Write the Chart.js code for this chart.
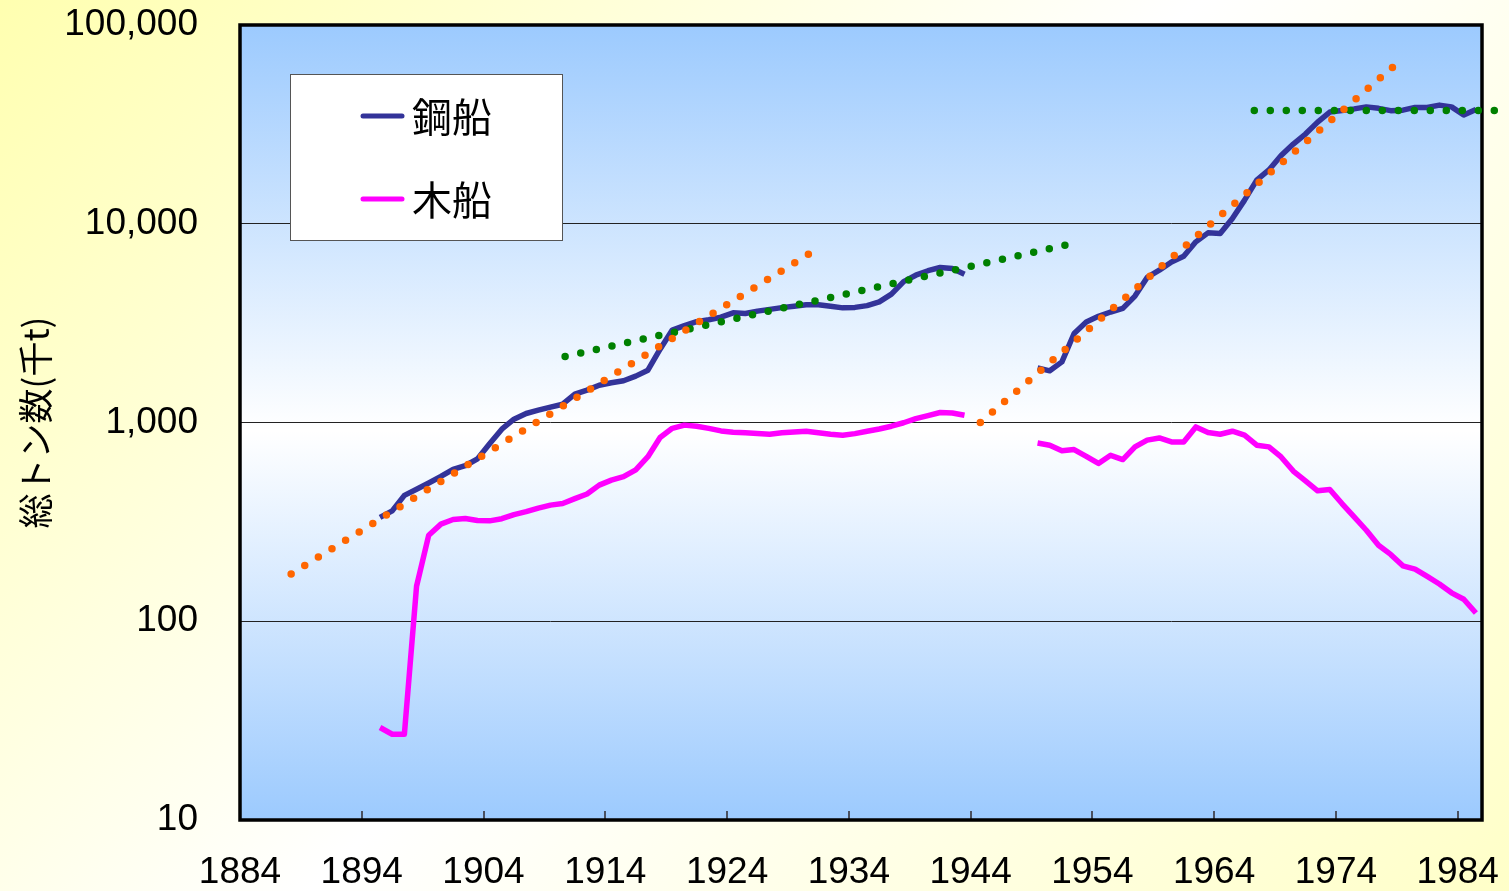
<!DOCTYPE html>
<html lang="ja">
<head>
<meta charset="utf-8">
<title>鋼船・木船 総トン数</title>
<script src="https://cdn.jsdelivr.net/npm/chart.js@4.4.1/dist/chart.umd.min.js"></script>
<style>
  html, body { margin: 0; padding: 0; }
  body {
    width: 1509px;
    height: 891px;
    overflow: hidden;
    background: linear-gradient(135deg, #ffffb0 0%, #ffffff 50%, #ffffc8 100%);
  }
  #shipChart { display: block; }
</style>
</head>
<body>
<canvas id="shipChart" width="1509" height="891"></canvas>
<script>
/* ===========================
   DATA (千総トン, log scale)
============================ */

// 鋼船 1895-1943, 1949-1985
const steelPreStart = 1895;
const steelPre = [
    333, 359, 430, 461, 496, 535, 581, 606, 656, 782,
    925, 1039, 1110, 1153, 1194, 1236, 1388, 1455, 1540, 1585,
    1622, 1711, 1833, 2339, 2917, 3070, 3215, 3290, 3387, 3562,
    3538, 3633, 3708, 3784, 3849, 3911, 3911, 3849, 3774, 3795,
    3873, 4048, 4424, 5115, 5510, 5804, 6026, 5955, 5571
];
const steelPostStart = 1949;
const steelPost = [
    1884, 1820, 2018, 2805, 3206, 3420, 3597, 3750, 4325, 5370,
    5838, 6427, 6866, 8109, 8998, 8935, 10630, 13150, 16570, 18660,
    22030, 25170, 28260, 32450, 36460, 37150, 37830, 38730, 38080, 37080,
    37290, 38480, 38480, 39530, 38730, 35220, 37570
];

// 木船 1895-1943, 1949-1985
const woodPreStart = 1895;
const woodPre = [
    29.2, 27, 27, 150, 271, 308, 325, 329, 321, 320,
    328, 344, 356, 371, 384, 391, 414, 437, 484, 513,
    534, 578, 673, 841, 935, 970, 958, 934, 907, 894,
    887, 880, 873, 887, 896, 904, 889, 873, 863, 879,
    904, 927, 958, 997, 1045, 1084, 1123, 1117, 1088
];
const woodPostStart = 1949;
const woodPost = [
    789, 769, 720, 731, 676, 622, 684, 651, 754, 815,
    836, 798, 798, 950, 891, 873, 904, 863, 769, 754,
    671, 570, 508, 453, 460, 391, 335, 287, 241, 217,
    190, 183, 168, 154, 139, 129, 110
];

// trend lines (start / end)
const trendOrangeAYears = [1887.7, 1930.2];
const trendOrangeAValues = [173, 7030];
const trendOrangeBYears = [1944.3, 1978.2];
const trendOrangeBValues = [1000, 61600];
const trendGreenAYears = [1910.2, 1951.3];
const trendGreenAValues = [2150, 7800];
const trendGreenBYears = [1966.8, 1987.5];
const trendGreenBValues = [37150, 37150];

// axis ticks
const xTicks = [1884, 1894, 1904, 1914, 1924, 1934, 1944, 1954, 1964, 1974, 1984];
const yTicks = [10, 100, 1000, 10000, 100000];

/* ===========================
   HELPERS
============================ */

// Excel puts each year in the middle of its category
const CAT_MID = 0.5;

function toPoints(start, values) {
    return values.map((v, i) => ({ x: start + i + CAT_MID, y: v }));
}

function joinSegments(a, b) {
    // null point breaks the line between the two periods
    return a.concat([{ x: a[a.length - 1].x + 1, y: null }], b);
}

function trendPoints(years, values) {
    return years.map((yr, i) => ({ x: yr + CAT_MID, y: values[i] }));
}

function noEdgePadding(s) {
    s.paddingTop = 0;
    s.paddingBottom = 0;
    s.paddingLeft = 0;
    s.paddingRight = 0;
}

const tickFont = { family: '"Liberation Sans", Arial, sans-serif', size: 37 };
const jpFont = '"Noto Sans CJK JP", sans-serif';

/* ===========================
   PLUGIN: plot background, border, ticks, legend
============================ */
const plotDecor = {
    id: 'plotDecor',
    beforeDraw(chart) {
        const { ctx, chartArea: a } = chart;
        const g = ctx.createLinearGradient(0, a.top, 0, a.bottom);
        g.addColorStop(0, '#9ccafe');
        g.addColorStop(0.51, '#ffffff');
        g.addColorStop(1, '#9ccafe');
        ctx.save();
        ctx.fillStyle = g;
        ctx.fillRect(a.left, a.top, a.width, a.height);
        ctx.restore();
    },
    beforeDatasetsDraw(chart) {
        const { ctx, chartArea: a } = chart;
        const xs = chart.scales.x;
        ctx.save();
        // small inside tick marks on the category axis
        ctx.strokeStyle = '#4a5060';
        ctx.lineWidth = 2;
        xs.ticks.forEach(t => {
            const px = Math.round(xs.getPixelForValue(t.value));
            ctx.beginPath();
            ctx.moveTo(px, a.bottom);
            ctx.lineTo(px, a.bottom - 9);
            ctx.stroke();
        });
        // plot border
        ctx.strokeStyle = '#000';
        ctx.lineWidth = 3.5;
        ctx.strokeRect(a.left, a.top, a.width, a.height);
        ctx.restore();
    },
    afterDraw(chart) {
        const { ctx } = chart;
        const items = chart.data.datasets.filter(d => d.inLegend);
        const box = { x: 290, y: 74, w: 272, h: 166 };
        ctx.save();
        ctx.fillStyle = '#fff';
        ctx.fillRect(box.x, box.y, box.w, box.h);
        ctx.strokeStyle = '#555';
        ctx.lineWidth = 1;
        ctx.strokeRect(box.x + 0.5, box.y + 0.5, box.w, box.h);
        ctx.font = '40px ' + jpFont;
        ctx.textBaseline = 'middle';
        ctx.fillStyle = '#000';
        items.forEach((d, i) => {
            const cy = box.y + 42 + i * 83;
            ctx.strokeStyle = d.borderColor;
            ctx.lineWidth = 5;
            ctx.lineCap = 'round';
            ctx.beginPath();
            ctx.moveTo(box.x + 73, cy);
            ctx.lineTo(box.x + 112, cy);
            ctx.stroke();
            ctx.fillText(d.label, box.x + 122, cy + 1);
        });
        ctx.restore();
    }
};

/* ===========================
   CHART
============================ */
const trendStyle = {
    borderWidth: 7.5,
    borderDash: [0, 16],
    borderCapStyle: 'round',
    pointRadius: 0,
    fill: false,
    tension: 0
};

new Chart(document.getElementById('shipChart').getContext('2d'), {
    type: 'line',
    data: {
        datasets: [
            Object.assign({ label: 'orangeA', data: trendPoints(trendOrangeAYears, trendOrangeAValues), borderColor: '#ff6600' }, trendStyle),
            Object.assign({ label: 'orangeB', data: trendPoints(trendOrangeBYears, trendOrangeBValues), borderColor: '#ff6600' }, trendStyle),
            Object.assign({ label: 'greenA', data: trendPoints(trendGreenAYears, trendGreenAValues), borderColor: '#008000' }, trendStyle),
            Object.assign({ label: 'greenB', data: trendPoints(trendGreenBYears, trendGreenBValues), borderColor: '#008000', clip: false }, trendStyle),
            {
                label: '鋼船',
                inLegend: true,
                data: joinSegments(toPoints(steelPreStart, steelPre), toPoints(steelPostStart, steelPost)),
                borderColor: '#333399',
                borderWidth: 5.5,
                pointRadius: 0,
                spanGaps: false,
                borderJoinStyle: 'round',
                tension: 0
            },
            {
                label: '木船',
                inLegend: true,
                data: joinSegments(toPoints(woodPreStart, woodPre), toPoints(woodPostStart, woodPost)),
                borderColor: '#ff00ff',
                borderWidth: 5.5,
                pointRadius: 0,
                spanGaps: false,
                borderJoinStyle: 'round',
                tension: 0
            }
        ]
    },
    options: {
        responsive: false,
        animation: false,
        layout: { padding: { top: 25, right: 27, left: 0, bottom: 0 } },
        plugins: {
            legend: { display: false },
            tooltip: { enabled: false }
        },
        scales: {
            x: {
                type: 'linear',
                min: 1884,
                max: 1986,
                grid: { display: false, drawTicks: false },
                border: { display: false },
                afterBuildTicks: s => { s.ticks = xTicks.map(v => ({ value: v })); },
                afterFit: s => { s.height = 71; noEdgePadding(s); },
                ticks: {
                    font: tickFont,
                    color: '#000',
                    padding: 31,
                    maxRotation: 0,
                    autoSkip: false,
                    callback: v => String(v)
                }
            },
            y: {
                type: 'logarithmic',
                min: 10,
                max: 100000,
                grid: { color: '#222', lineWidth: 1, drawTicks: false },
                border: { display: false },
                afterBuildTicks: s => { s.ticks = yTicks.map(v => ({ value: v })); },
                afterFit: s => { s.width = 240; noEdgePadding(s); },
                ticks: {
                    font: tickFont,
                    color: '#000',
                    padding: 42,
                    callback: v => v.toLocaleString('en-US')
                },
                title: {
                    display: true,
                    text: '総トン数(千t)',
                    color: '#000',
                    font: { family: jpFont, size: 35 },
                    padding: { top: 15, bottom: 0 }
                }
            }
        }
    },
    plugins: [plotDecor]
});
</script>
</body>
</html>
